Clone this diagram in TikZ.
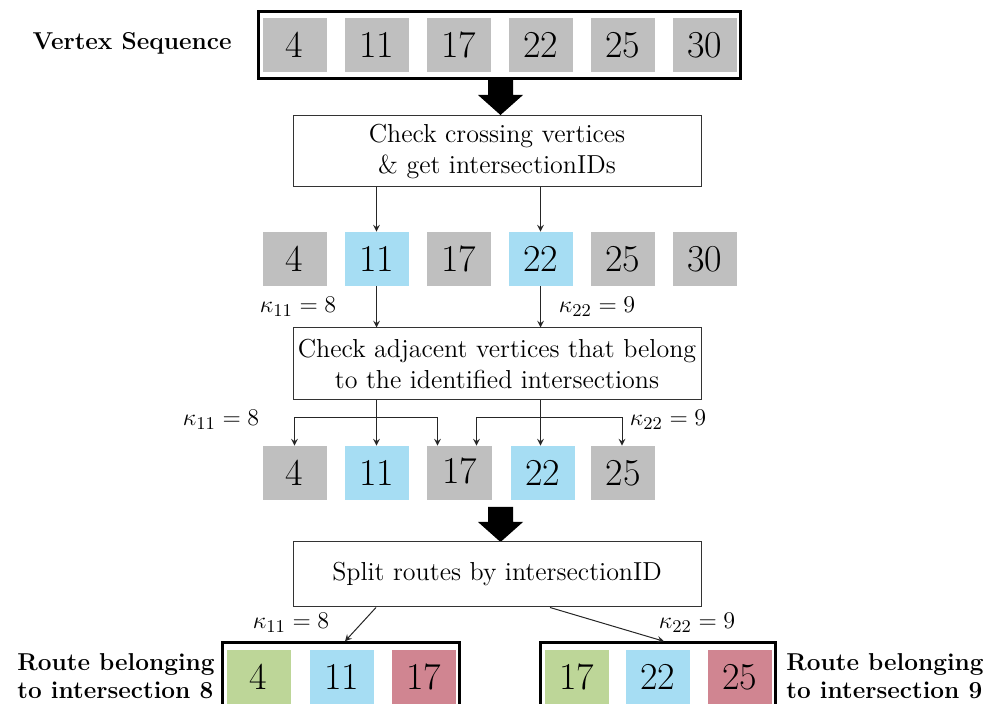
\documentclass[tikz,border=0pt]{standalone}
\usepackage{fontspec}
\usetikzlibrary{fit,calc}
\definecolor{cgray}{RGB}{191,191,191}
\definecolor{cblue}{RGB}{166,221,243}
\definecolor{cgreen}{RGB}{189,214,152}
\definecolor{cred}{RGB}{208,133,145}
\tikzset{
  cell/.style={minimum width=32pt,minimum height=27pt,inner sep=0pt,draw=none,
    font=\fontsize{19}{21}\selectfont},
  gcell/.style={cell,fill=cgray},
  bcell/.style={cell,fill=cblue},
  grcell/.style={cell,fill=cgreen},
  rcell/.style={cell,fill=cred},
  frame/.style={draw=black,line width=1.3pt,inner xsep=1.8pt,inner ysep=3pt},
  procbox/.style={draw=black!80,line width=0.5pt,minimum width=204pt,align=center,
    inner sep=0pt,font=\fontsize{13}{15.5}\selectfont},
  lab/.style={font=\fontsize{12.3}{14}\selectfont,inner sep=0pt},
  blab/.style={font=\bfseries\fontsize{12.2}{14}\selectfont,align=left,inner sep=0pt},
  conn/.style={->,>=stealth,line width=0.5pt,draw=black!85,shorten >=0pt},
  bigarrow/.style={fill=black,draw=none}
}
\begin{document}
\begin{tikzpicture}[x=0.5pt,y=-0.5pt]
\useasboundingbox (0,0) rectangle (991,704);
\clip (0,0) rectangle (991,704);
% row 1
\foreach \n/\v [count=\i] in {a1/4,a2/11,a3/17,a4/22,a5/25,a6/30}
  \node[gcell] (\n) at ({294.5+82*(\i-1)},45) {\v};
\node[frame,fit=(a1)(a6)] (fr1) {};
\node[blab,anchor=east] (vs) at (232,43) {Vertex Sequence};
% big arrow 1
\fill[bigarrow] (488,80) -- (513,80) -- (513,95) -- (523,95) -- (500.5,115) -- (478,95) -- (488,95) -- cycle;
% box 1
\node[procbox,minimum height=35.5pt] (p1) at (497,151.5) {Check crossing vertices\\ \& get intersectionIDs};
% row 2
\node[gcell] (b1) at (294.5,259) {4};
\node[bcell] (b2) at (376.5,259) {11};
\node[gcell] (b3) at (458.5,259) {17};
\node[bcell] (b4) at (540.5,259) {22};
\node[gcell] (b5) at (622.5,259) {25};
\node[gcell] (b6) at (704.5,259) {30};
\draw[conn] (p1.south -| b2) -- (b2.north);
\draw[conn] (p1.south -| b4) -- (b4.north);
% box 2
\node[procbox,minimum height=36pt] (p2) at (497,364) {Check adjacent vertices that belong\\ to the identified intersections};
\draw[conn] (b2.south) -- (p2.north -| b2);
\draw[conn] (b4.south) -- (p2.north -| b4);
\node[lab] (k1) at (298,307) {$\kappa_{11} = 8$};
\node[lab] (k2) at (597,307) {$\kappa_{22} = 9$};
% row 3
\node[gcell] (c1) at (294.5,473) {4};
\node[bcell] (c2) at (376.5,473) {11};
\node[gcell,minimum width=32.5pt] (c3) at (459.5,473) {\raisebox{2pt}{17}};
\node[bcell] (c4) at (542.5,473) {22};
\node[gcell] (c5) at (623,473) {25};
\coordinate (jl) at (376.5,418);
\coordinate (jr) at (540.5,418);
\draw[conn] (p2.south -| c2) -- (c2.north);
\draw[conn] (p2.south -| jr) -- (jr |- c4.north);
\draw[conn] (jl) -| (c1.north);
\draw[conn] (jl) -| ([xshift=-11pt]c3.north);
\draw[conn] (jr) -| ([xshift=8.5pt]c3.north);
\draw[conn] (jr) -| ([xshift=-0.5pt]c5.north);
\node[lab] (k3) at (221,420) {$\kappa_{11} = 8$};
\node[lab] (k4) at (668,420) {$\kappa_{22} = 9$};
% big arrow 2
\fill[bigarrow] (488,507) -- (513,507) -- (513,522) -- (523,522) -- (500.5,542) -- (478,522) -- (488,522) -- cycle;
% box 3
\node[procbox,minimum height=32.5pt] (p3) at (497,574.5) {Split routes by intersectionID};
% bottom routes
\node[grcell] (d1) at (258.5,677) {4};
\node[bcell] (d2) at (341.5,677) {11};
\node[rcell] (d3) at (423.5,677) {17};
\node[frame,fit=(d1)(d3),inner ysep=3.5pt] (fr2) {};
\node[grcell] (e1) at (576.5,677) {17};
\node[bcell] (e2) at (657.5,677) {22};
\node[rcell] (e3) at (739.5,677) {25};
\node[frame,fit=(e1)(e3),inner ysep=3.5pt] (fr3) {};
\draw[conn] ([xshift=-60.5pt]p3.south) -- ([xshift=2pt]fr2.north);
\draw[conn] ([xshift=26.5pt]p3.south) -- ([xshift=3pt]fr3.north);
\node[lab] (k5) at (291,623) {$\kappa_{11} = 8$};
\node[lab] (k6) at (697,623) {$\kappa_{22} = 9$};
\node[blab,anchor=west] (rl) at (17,676) {Route belonging\\to intersection 8};
\node[blab,anchor=west] (rr) at (786,676) {Route belonging\\to intersection 9};
\end{tikzpicture}
\end{document}
